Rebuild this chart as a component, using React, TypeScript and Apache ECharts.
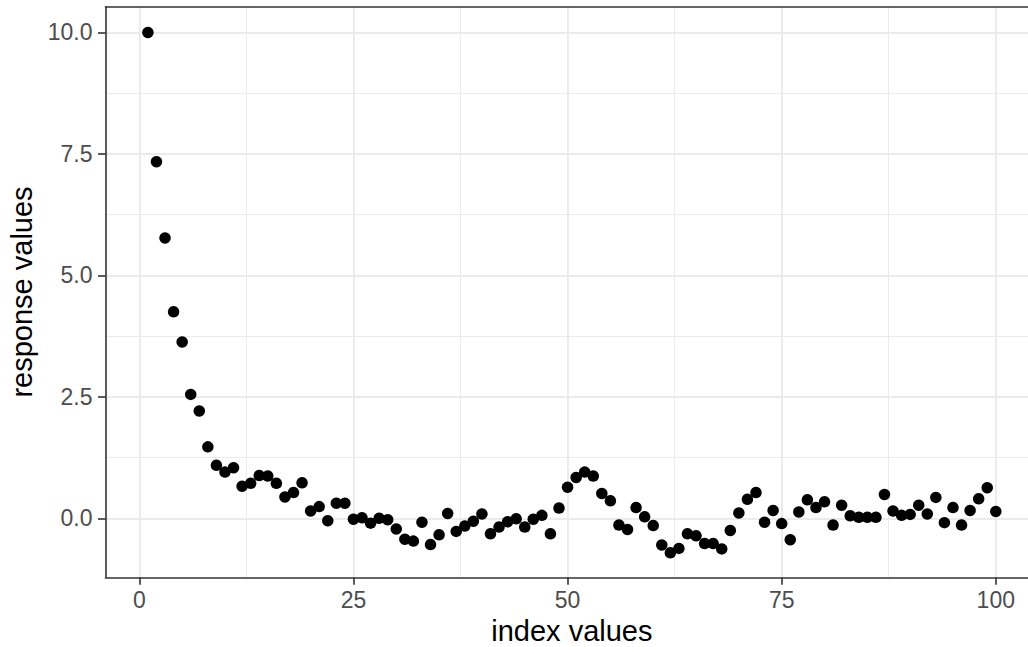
import React, { useEffect, useRef } from "react";
import * as echarts from "echarts";

const responseValues: number[] = [
  10.0, 7.34, 5.77, 4.25, 3.63, 2.55, 2.21, 1.47, 1.09, 0.95,
  1.04, 0.66, 0.72, 0.88, 0.87, 0.72, 0.44, 0.53, 0.73, 0.15,
  0.24, -0.05, 0.31, 0.31, -0.02, 0.01, -0.1, 0.0, -0.03, -0.22,
  -0.43, -0.47, -0.08, -0.54, -0.34, 0.1, -0.27, -0.16, -0.06, 0.09,
  -0.32, -0.18, -0.07, -0.01, -0.18, -0.02, 0.06, -0.32, 0.21, 0.64,
  0.84, 0.95, 0.87, 0.51, 0.36, -0.14, -0.23, 0.22, 0.03, -0.15,
  -0.55, -0.71, -0.62, -0.32, -0.36, -0.52, -0.52, -0.63, -0.25, 0.11,
  0.39, 0.53, -0.08, 0.16, -0.11, -0.44, 0.13, 0.38, 0.22, 0.34,
  -0.14, 0.27, 0.05, 0.02, 0.02, 0.02, 0.49, 0.15, 0.06, 0.08,
  0.27, 0.09, 0.43, -0.09, 0.22, -0.14, 0.16, 0.4, 0.63, 0.14,
];

const xMajorTicks: number[] = [0, 25, 50, 75, 100];
const xMinorTicks: number[] = [12.5, 37.5, 62.5, 87.5];
const yMajorTicks: number[] = [0, 2.5, 5, 7.5, 10];
const yMinorTicks: number[] = [1.25, 3.75, 6.25, 8.75];

const X_MIN = -3.95;
const X_MAX = 104.95;
const Y_MIN = -1.215;
const Y_MAX = 10.53;

export default function App() {
  const ref = useRef<HTMLDivElement>(null);

  useEffect(() => {
    if (!ref.current) return;
    const chart = echarts.init(ref.current, null, { renderer: "svg" });
    const font = "'Liberation Sans', Arial, Helvetica, sans-serif";
    const gridColor = "#EBEBEB";
    const borderColor = "#333333";
    const majorW = 1.9;
    const minorW = 1.0;

    const gridLines = [
      ...xMajorTicks.map((v) => ({ xAxis: v, lineStyle: { width: majorW, color: gridColor, type: "solid" } })),
      ...xMinorTicks.map((v) => ({ xAxis: v, lineStyle: { width: minorW, color: gridColor, type: "solid" } })),
      ...yMajorTicks.map((v) => ({ yAxis: v, lineStyle: { width: majorW, color: gridColor, type: "solid" } })),
      ...yMinorTicks.map((v) => ({ yAxis: v, lineStyle: { width: minorW, color: gridColor, type: "solid" } })),
    ];

    chart.setOption({
      animation: false,
      backgroundColor: "#FFFFFF",
      grid: {
        left: 105.5,
        top: 6.7,
        width: 932.7,
        height: 570.6,
        show: false,
        containLabel: false,
        outerBoundsMode: "none",
      },
      xAxis: [
        {
          type: "value",
          position: "bottom",
          min: X_MIN,
          max: X_MAX,
          z: 20,
          name: "index values",
          nameLocation: "middle",
          nameGap: 38,
          nameTextStyle: { fontFamily: font, fontSize: 29, color: "#000000" },
          axisLine: { show: true, onZero: false, lineStyle: { color: borderColor, width: 1.6 } },
          axisTick: {
            show: true,
            length: 7.5,
            customValues: xMajorTicks,
            lineStyle: { color: borderColor, width: 1.6 },
          },
          axisLabel: {
            show: true,
            customValues: xMajorTicks,
            margin: 11,
            fontFamily: font,
            fontSize: 23,
            color: "#4D4D4D",
            formatter: (v: number) => String(v),
          },
          splitLine: { show: false },
        },
        {
          type: "value",
          position: "top",
          min: X_MIN,
          max: X_MAX,
          z: 20,
          axisLine: { show: true, onZero: false, lineStyle: { color: borderColor, width: 1.6 } },
          axisTick: { show: false },
          axisLabel: { show: false },
          splitLine: { show: false },
        },
      ],
      yAxis: {
        type: "value",
        min: Y_MIN,
        max: Y_MAX,
        z: 20,
        name: "response values",
        nameLocation: "middle",
        nameRotate: 90,
        nameGap: 55,
        nameTextStyle: { fontFamily: font, fontSize: 29, color: "#000000" },
        axisLine: { show: true, onZero: false, lineStyle: { color: borderColor, width: 1.6 } },
        axisTick: {
          show: true,
          length: 7.5,
          customValues: yMajorTicks,
          lineStyle: { color: borderColor, width: 1.6 },
        },
        axisLabel: {
          show: true,
          customValues: yMajorTicks,
          margin: 13,
          fontFamily: font,
          fontSize: 23,
          color: "#4D4D4D",
          formatter: (v: number) => v.toFixed(1),
        },
        splitLine: { show: false },
      },
      series: [
        {
          type: "line",
          data: [],
          z: 1,
          silent: true,
          markLine: {
            silent: true,
            symbol: ["none", "none"],
            label: { show: false },
            animation: false,
            data: gridLines,
          },
        },
        {
          type: "scatter",
          z: 10,
          symbol: "circle",
          symbolSize: 11.5,
          itemStyle: { color: "#000000", opacity: 1 },
          data: responseValues.map((v, i) => [i + 1, v]),
        },
      ],
    });

    return () => {
      chart.dispose();
    };
  }, []);

  return (
    <div
      style={{
        position: "fixed",
        left: 0,
        top: 0,
        width: 1028,
        height: 647,
        overflow: "hidden",
        background: "#FFFFFF",
      }}
    >
      <div ref={ref} style={{ position: "absolute", left: 0, top: 0, width: 1028, height: 647, overflow: "hidden" }} />
    </div>
  );
}
